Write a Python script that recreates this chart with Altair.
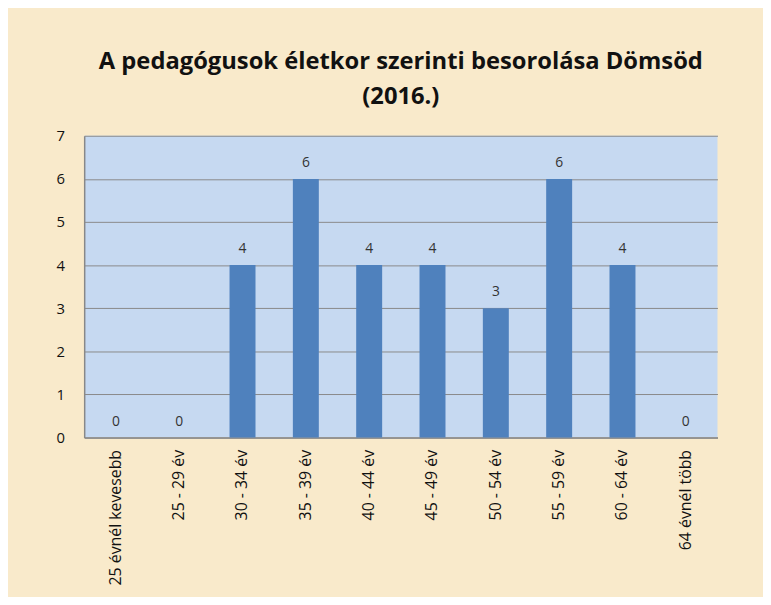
import altair as alt
import pandas as pd

categories = ["25 évnél kevesebb", "25 - 29 év", "30 - 34 év", "35 - 39 év", "40 - 44 év",
              "45 - 49 év", "50 - 54 év", "55 - 59 év", "60 - 64 év", "64 évnél több"]
values = [0, 0, 4, 6, 4, 4, 3, 6, 4, 0]
y_ticks = [0, 1, 2, 3, 4, 5, 6, 7]

df = pd.DataFrame({"cat": categories, "val": values})

x = alt.X("cat:N", sort=categories, title=None,
          scale=alt.Scale(paddingInner=0.59, paddingOuter=0.295),
          axis=alt.Axis(labelAngle=270, labelAlign="right", labelBaseline="middle",
                        ticks=False, labelPadding=12, labelFontSize=16,
                        labelFont="Open Sans", labelColor="#111111",
                        domainColor="#888888", domainWidth=1.5, labelLimit=200))
y = alt.Y("val:Q", title=None,
          scale=alt.Scale(domain=[0, 7], nice=False),
          axis=alt.Axis(values=y_ticks, ticks=False, labelPadding=20, labelFontSize=15,
                        labelFont="Open Sans", labelColor="#111111",
                        gridColor="#8a8a8a", gridWidth=1, domainColor="#888888",
                        domainWidth=1.5))

bars = alt.Chart(df).mark_bar(color="#4F81BD").encode(x=x, y=y)
labels = alt.Chart(df).mark_text(baseline="bottom", dy=-9, fontSize=14,
                                 font="Open Sans", color="#333333").encode(
    x=alt.X("cat:N", sort=categories), y="val:Q", text="val:Q")

chart = (bars + labels).properties(
    width=640, height=305,
    autosize=alt.AutoSizeParams(type="none"),
    padding={"left": 77, "top": 126, "right": 46, "bottom": 158},
    background="#F9EACB",
    title=alt.TitleParams(["A pedagógusok életkor szerinti besorolása Dömsöd", "(2016.)"],
                          font="Open Sans", fontSize=24, fontWeight="bold",
                          color="#111111", anchor="middle", offset=20, lineHeight=35),
).configure_view(fill="#C6D9F1", stroke=None)

chart.save("out.html", embed_options={"renderer": "svg", "actions": False})
